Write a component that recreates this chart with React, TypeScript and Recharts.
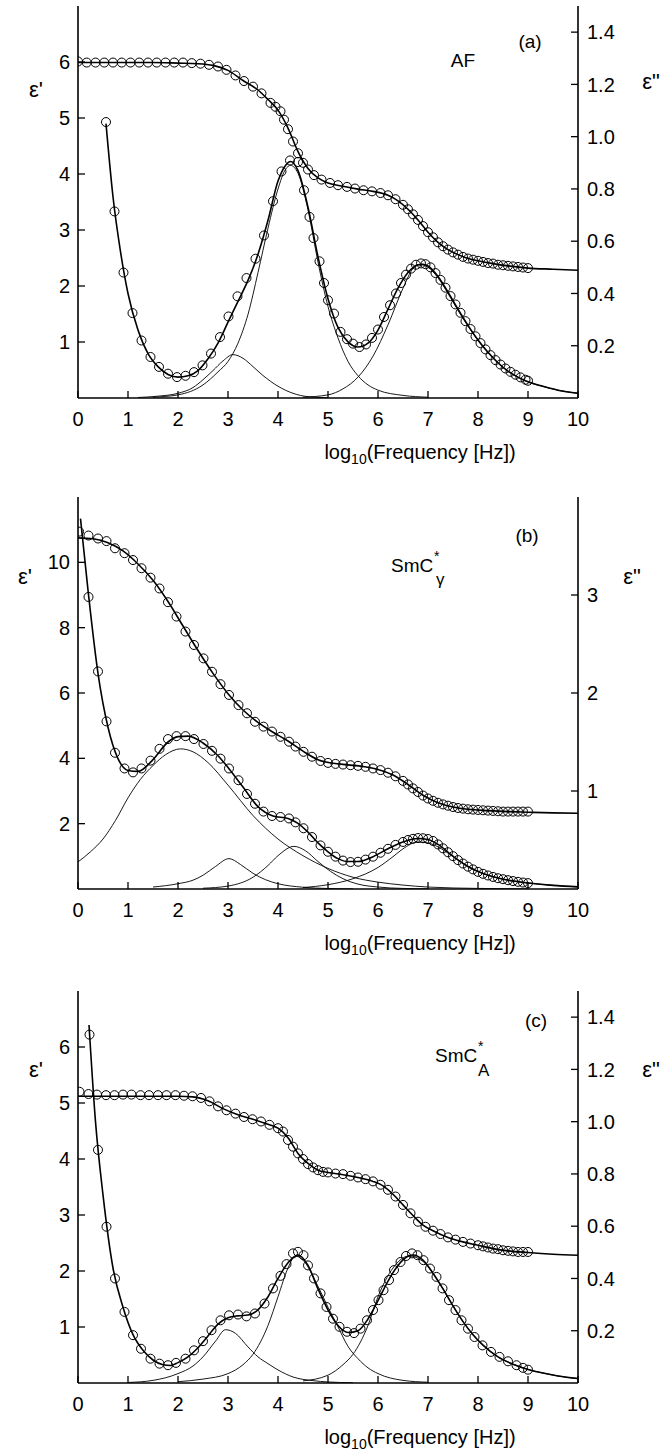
import React from "react";
import { ComposedChart, Line, Scatter, XAxis, YAxis } from "recharts";

type P = [number, number];

// shared axis ticks
const X_TICKS = [0, 1, 2, 3, 4, 5, 6, 7, 8, 9, 10];
const TOP_TICKS = [1, 2, 3, 4, 5, 6, 7, 8, 9];
const A_LEFT_TICKS = [1, 2, 3, 4, 5, 6];
const A_RIGHT_TICKS = [0.2, 0.4, 0.6, 0.8, 1.0, 1.2, 1.4];
const B_LEFT_TICKS = [2, 4, 6, 8, 10];
const B_RIGHT_TICKS = [1, 2, 3];

// ---------- panel (a): AF ----------
const A_E1_PTS: P[] = [
  [0, 6.01], [0.175, 5.99], [0.35, 5.99], [0.525, 5.99], [0.7, 5.99], [0.875, 5.99], [1.05, 5.99],
  [1.225, 5.99], [1.4, 5.99], [1.575, 5.99], [1.75, 5.99], [1.925, 5.99], [2.1, 5.99], [2.275, 5.98],
  [2.45, 5.97], [2.62, 5.95], [2.8, 5.92], [2.97, 5.86], [3.15, 5.76], [3.32, 5.66], [3.5, 5.56],
  [3.67, 5.44], [3.85, 5.27], [3.95, 5.2], [4.05, 5.12], [4.12, 4.97], [4.2, 4.8], [4.3, 4.58],
  [4.4, 4.37], [4.5, 4.2], [4.6, 4.08], [4.72, 3.98], [4.87, 3.9], [5.04, 3.84], [5.2, 3.8],
  [5.38, 3.77], [5.54, 3.74], [5.71, 3.71], [5.88, 3.69], [6.05, 3.66], [6.2, 3.62], [6.35, 3.55],
  [6.5, 3.45], [6.6, 3.37], [6.7, 3.28], [6.8, 3.18], [6.9, 3.07], [7.0, 2.96], [7.1, 2.87],
  [7.2, 2.78], [7.3, 2.71], [7.4, 2.65], [7.5, 2.6], [7.6, 2.56], [7.7, 2.52], [7.8, 2.49],
  [7.9, 2.47], [8.0, 2.45], [8.1, 2.43], [8.2, 2.41], [8.3, 2.4], [8.4, 2.38], [8.5, 2.37],
  [8.6, 2.36], [8.7, 2.35], [8.8, 2.34], [8.9, 2.33], [9.0, 2.32],
];
const A_E1_FIT: P[] = [
  [0, 5.99], [0.5, 5.99], [1, 5.99], [1.5, 5.99], [2, 5.98], [2.4, 5.97], [2.7, 5.94], [3.0, 5.85],
  [3.3, 5.67], [3.6, 5.5], [3.8, 5.33], [4.0, 5.14], [4.2, 4.82], [4.4, 4.4], [4.6, 4.1], [4.8, 3.93],
  [5.0, 3.84], [5.3, 3.78], [5.6, 3.73], [5.9, 3.69], [6.2, 3.62], [6.4, 3.52], [6.6, 3.37],
  [6.8, 3.18], [7.0, 2.96], [7.2, 2.78], [7.4, 2.65], [7.6, 2.56], [7.8, 2.49], [8.0, 2.45],
  [8.3, 2.4], [8.6, 2.36], [9.0, 2.32], [9.5, 2.3], [10, 2.28],
];
const A_E2_PTS: P[] = [
  [0.56, 1.056], [0.73, 0.714], [0.91, 0.48], [1.09, 0.325], [1.27, 0.22], [1.45, 0.157], [1.62, 0.119],
  [1.8, 0.093], [1.98, 0.08], [2.15, 0.085], [2.32, 0.099], [2.49, 0.125], [2.66, 0.17], [2.84, 0.233],
  [3.01, 0.312], [3.19, 0.389], [3.37, 0.459], [3.55, 0.533], [3.72, 0.622], [3.9, 0.753],
  [4.07, 0.867], [4.24, 0.909], [4.4, 0.903], [4.52, 0.795], [4.63, 0.693], [4.71, 0.612],
  [4.83, 0.523], [4.92, 0.44], [5.0, 0.374], [5.12, 0.323], [5.25, 0.253], [5.38, 0.225], [5.5, 0.208],
  [5.63, 0.195], [5.76, 0.205], [5.88, 0.23], [6.0, 0.262], [6.12, 0.31], [6.24, 0.355], [6.36, 0.4],
  [6.46, 0.44], [6.56, 0.472], [6.66, 0.495], [6.76, 0.51], [6.86, 0.515], [6.95, 0.512], [7.05, 0.5],
  [7.15, 0.478], [7.25, 0.452], [7.35, 0.422], [7.45, 0.39], [7.55, 0.358], [7.65, 0.326],
  [7.75, 0.294], [7.85, 0.264], [7.95, 0.236], [8.05, 0.21], [8.15, 0.186], [8.25, 0.164],
  [8.35, 0.145], [8.45, 0.128], [8.55, 0.113], [8.65, 0.1], [8.75, 0.089], [8.85, 0.079],
  [8.95, 0.07], [9.0, 0.066],
];
const A_E2_FIT: P[] = [
  [0.56, 1.05], [0.7, 0.77], [0.85, 0.56], [1.0, 0.4], [1.2, 0.26], [1.4, 0.17], [1.6, 0.12], [1.8, 0.09],
  [2.0, 0.08], [2.2, 0.085], [2.4, 0.105], [2.6, 0.15], [2.8, 0.21], [3.0, 0.29], [3.2, 0.37],
  [3.4, 0.45], [3.6, 0.55], [3.8, 0.68], [4.0, 0.83], [4.15, 0.89], [4.25, 0.905], [4.4, 0.87],
  [4.6, 0.73], [4.8, 0.54], [5.0, 0.38], [5.2, 0.27], [5.4, 0.215], [5.6, 0.195], [5.8, 0.21],
  [6.0, 0.26], [6.2, 0.34], [6.4, 0.42], [6.6, 0.48], [6.8, 0.51], [6.9, 0.512], [7.0, 0.505],
  [7.2, 0.465], [7.4, 0.405], [7.6, 0.34], [7.8, 0.278], [8.0, 0.222], [8.2, 0.175], [8.4, 0.135],
  [8.6, 0.103], [8.8, 0.08], [9.0, 0.062], [9.3, 0.045], [9.6, 0.03], [10, 0.018],
];
const A_C1: P[] = [
  [1.2, 0.002], [1.6, 0.007], [2.0, 0.018], [2.3, 0.04], [2.5, 0.07], [2.7, 0.105], [2.9, 0.142],
  [3.1, 0.166], [3.3, 0.152], [3.5, 0.12], [3.7, 0.086], [4.0, 0.045], [4.3, 0.018], [4.6, 0.005],
  [5.0, 0.001],
];
const A_C2: P[] = [
  [1.5, 0.003], [2.0, 0.012], [2.5, 0.05], [2.8, 0.1], [3.0, 0.14], [3.2, 0.21], [3.4, 0.32],
  [3.6, 0.48], [3.8, 0.65], [4.0, 0.8], [4.15, 0.875], [4.25, 0.89], [4.4, 0.86], [4.6, 0.72],
  [4.8, 0.52], [5.0, 0.35], [5.2, 0.23], [5.4, 0.14], [5.6, 0.085], [5.8, 0.05], [6.0, 0.03],
  [6.5, 0.01], [7.0, 0.003],
];
const A_C3: P[] = [
  [4.5, 0.003], [5.0, 0.012], [5.3, 0.035], [5.6, 0.08], [5.9, 0.16], [6.2, 0.28], [6.5, 0.42],
  [6.7, 0.495], [6.85, 0.51], [7.0, 0.5], [7.2, 0.46], [7.4, 0.4], [7.6, 0.335], [7.8, 0.275],
  [8.0, 0.22], [8.2, 0.173], [8.4, 0.133], [8.6, 0.102], [8.8, 0.079], [9.0, 0.061], [9.3, 0.044],
  [9.6, 0.03], [10, 0.018],
];

// ---------- panel (b): SmC*gamma ----------
const B_E1_PTS: P[] = [
  [0.02, 10.94], [0.21, 10.82], [0.4, 10.73], [0.57, 10.65], [0.74, 10.43], [0.93, 10.28], [1.1, 10.07],
  [1.27, 9.82], [1.45, 9.53], [1.63, 9.2], [1.8, 8.78], [1.97, 8.34], [2.15, 7.88], [2.32, 7.47],
  [2.51, 7.06], [2.68, 6.65], [2.85, 6.27], [3.02, 5.94], [3.21, 5.63], [3.38, 5.38], [3.54, 5.12],
  [3.71, 4.97], [3.88, 4.82], [4.05, 4.66], [4.22, 4.51], [4.35, 4.36], [4.51, 4.2], [4.68, 4.05],
  [4.85, 3.92], [5.0, 3.86], [5.15, 3.83], [5.3, 3.81], [5.45, 3.79], [5.6, 3.77], [5.75, 3.74],
  [5.9, 3.69], [6.05, 3.64], [6.2, 3.56], [6.35, 3.45], [6.5, 3.31], [6.6, 3.2], [6.7, 3.08],
  [6.8, 2.97], [6.9, 2.86], [7.0, 2.77], [7.1, 2.7], [7.2, 2.64], [7.3, 2.59], [7.4, 2.55],
  [7.5, 2.51], [7.6, 2.48], [7.7, 2.46], [7.8, 2.44], [7.9, 2.43], [8.0, 2.42], [8.1, 2.41],
  [8.2, 2.4], [8.3, 2.39], [8.4, 2.38], [8.5, 2.37], [8.6, 2.37], [8.7, 2.37], [8.8, 2.37],
  [8.9, 2.37], [9.0, 2.37],
];
const B_E1_FIT: P[] = [
  [0, 10.75], [0.3, 10.72], [0.6, 10.6], [0.9, 10.35], [1.2, 9.95], [1.5, 9.45], [1.8, 8.8], [2.1, 8.05],
  [2.4, 7.3], [2.7, 6.6], [3.0, 5.98], [3.3, 5.48], [3.6, 5.1], [3.9, 4.8], [4.2, 4.53], [4.5, 4.22],
  [4.8, 3.96], [5.1, 3.85], [5.4, 3.8], [5.7, 3.75], [6.0, 3.66], [6.3, 3.49], [6.6, 3.2], [6.9, 2.87],
  [7.2, 2.64], [7.5, 2.51], [7.8, 2.44], [8.2, 2.4], [8.6, 2.37], [9.0, 2.35], [9.5, 2.33], [10, 2.32],
];
const B_E2_PTS: P[] = [
  [0.21, 2.98], [0.4, 2.22], [0.57, 1.71], [0.74, 1.39], [0.93, 1.23], [1.1, 1.19], [1.27, 1.23],
  [1.45, 1.31], [1.63, 1.43], [1.8, 1.53], [1.97, 1.56], [2.15, 1.56], [2.32, 1.53], [2.51, 1.48],
  [2.68, 1.41], [2.85, 1.33], [3.02, 1.23], [3.21, 1.11], [3.38, 0.97], [3.54, 0.87], [3.71, 0.79],
  [3.88, 0.745], [4.05, 0.735], [4.22, 0.72], [4.35, 0.68], [4.51, 0.62], [4.68, 0.53], [4.85, 0.445],
  [5.0, 0.38], [5.15, 0.33], [5.3, 0.29], [5.45, 0.275], [5.6, 0.278], [5.75, 0.3], [5.9, 0.33],
  [6.05, 0.37], [6.2, 0.41], [6.35, 0.45], [6.5, 0.48], [6.6, 0.5], [6.7, 0.512], [6.8, 0.52],
  [6.9, 0.518], [7.0, 0.51], [7.1, 0.49], [7.2, 0.455], [7.3, 0.415], [7.4, 0.375], [7.5, 0.335],
  [7.6, 0.295], [7.7, 0.26], [7.8, 0.228], [7.9, 0.2], [8.0, 0.175], [8.1, 0.155], [8.2, 0.138],
  [8.3, 0.123], [8.4, 0.11], [8.5, 0.1], [8.6, 0.09], [8.7, 0.081], [8.8, 0.073], [8.9, 0.066],
  [9.0, 0.06],
];
const B_E2_FIT: P[] = [
  [0.05, 3.78], [0.2, 3.05], [0.4, 2.2], [0.6, 1.65], [0.8, 1.33], [1.0, 1.21], [1.2, 1.2], [1.5, 1.32],
  [1.8, 1.5], [2.0, 1.555], [2.2, 1.56], [2.5, 1.49], [2.8, 1.36], [3.0, 1.24], [3.3, 1.04], [3.6, 0.84],
  [3.9, 0.745], [4.2, 0.72], [4.4, 0.67], [4.6, 0.58], [4.8, 0.47], [5.0, 0.38], [5.2, 0.31],
  [5.4, 0.28], [5.6, 0.28], [5.9, 0.33], [6.2, 0.41], [6.5, 0.48], [6.8, 0.515], [7.0, 0.505],
  [7.2, 0.455], [7.5, 0.335], [7.8, 0.23], [8.1, 0.158], [8.4, 0.112], [8.7, 0.082], [9.0, 0.062],
  [9.5, 0.037], [10, 0.022],
];
const B_C1: P[] = [
  [0, 0.276], [0.25, 0.38], [0.5, 0.51], [0.75, 0.7], [1.0, 0.93], [1.25, 1.12], [1.5, 1.26],
  [1.75, 1.37], [2.05, 1.43], [2.3, 1.4], [2.6, 1.29], [3.0, 1.06], [3.5, 0.75], [4.0, 0.51],
  [4.5, 0.34], [5.0, 0.21], [5.5, 0.12], [6.0, 0.07], [6.5, 0.04], [7.0, 0.02], [8.0, 0.006], [9, 0.002],
];
const B_C2: P[] = [
  [1.5, 0.02], [2.0, 0.054], [2.3, 0.09], [2.5, 0.14], [2.75, 0.23], [3.02, 0.31], [3.25, 0.25],
  [3.5, 0.16], [3.75, 0.095], [4.0, 0.054], [4.5, 0.018], [5.0, 0.005], [5.5, 0.001],
];
const B_C3: P[] = [
  [2.5, 0.008], [3.0, 0.03], [3.5, 0.12], [3.8, 0.24], [4.0, 0.34], [4.32, 0.435], [4.55, 0.39],
  [4.8, 0.28], [5.05, 0.18], [5.3, 0.105], [5.6, 0.05], [6.0, 0.02], [6.5, 0.006], [7, 0.002],
];
const B_C4: P[] = [
  [4.5, 0.015], [5.0, 0.044], [5.5, 0.105], [6.0, 0.22], [6.3, 0.33], [6.5, 0.41], [6.8, 0.48],
  [7.0, 0.47], [7.2, 0.43], [7.5, 0.33], [7.8, 0.23], [8.1, 0.158], [8.4, 0.112], [8.7, 0.082],
  [9.0, 0.062], [9.5, 0.037], [10, 0.022],
];

// ---------- panel (c): SmC*A ----------
const C_E1_PTS: P[] = [
  [0.03, 5.2], [0.21, 5.16], [0.38, 5.15], [0.56, 5.14], [0.73, 5.14], [0.9, 5.15], [1.07, 5.15],
  [1.25, 5.14], [1.42, 5.14], [1.6, 5.14], [1.77, 5.14], [1.95, 5.14], [2.12, 5.13], [2.29, 5.12],
  [2.46, 5.09], [2.63, 5.03], [2.8, 4.94], [2.97, 4.87], [3.15, 4.81], [3.32, 4.75], [3.49, 4.71],
  [3.66, 4.67], [3.83, 4.61], [4.0, 4.55], [4.1, 4.49], [4.2, 4.34], [4.3, 4.22], [4.4, 4.1],
  [4.5, 4.0], [4.6, 3.91], [4.7, 3.85], [4.8, 3.8], [4.9, 3.77], [5.0, 3.76], [5.15, 3.74],
  [5.3, 3.73], [5.45, 3.7], [5.6, 3.67], [5.75, 3.64], [5.9, 3.6], [6.05, 3.54], [6.2, 3.45],
  [6.35, 3.33], [6.5, 3.18], [6.65, 3.03], [6.8, 2.88], [6.95, 2.79], [7.1, 2.72], [7.25, 2.66],
  [7.4, 2.6], [7.55, 2.56], [7.7, 2.52], [7.85, 2.49], [8.0, 2.46], [8.1, 2.44], [8.2, 2.42],
  [8.3, 2.4], [8.4, 2.39], [8.5, 2.37], [8.6, 2.36], [8.7, 2.35], [8.8, 2.34], [8.9, 2.34], [9.0, 2.34],
];
const C_E1_FIT: P[] = [
  [0, 5.12], [0.5, 5.12], [1, 5.12], [1.5, 5.12], [2, 5.12], [2.3, 5.11], [2.6, 5.04], [2.9, 4.9],
  [3.2, 4.79], [3.5, 4.71], [3.8, 4.62], [4.0, 4.55], [4.2, 4.38], [4.4, 4.1], [4.6, 3.92], [4.8, 3.8],
  [5.0, 3.76], [5.3, 3.72], [5.6, 3.67], [5.9, 3.6], [6.1, 3.52], [6.3, 3.37], [6.5, 3.18], [6.7, 2.99],
  [6.9, 2.82], [7.1, 2.72], [7.4, 2.6], [7.7, 2.52], [8.0, 2.46], [8.3, 2.4], [8.6, 2.36], [9.0, 2.33],
  [9.5, 2.3], [10, 2.28],
];
const C_E2_PTS: P[] = [
  [0.23, 1.333], [0.4, 0.892], [0.57, 0.598], [0.74, 0.4], [0.93, 0.272], [1.1, 0.183], [1.26, 0.131],
  [1.45, 0.093], [1.63, 0.074], [1.8, 0.068], [1.96, 0.077], [2.15, 0.093], [2.32, 0.125], [2.5, 0.16],
  [2.67, 0.202], [2.85, 0.24], [3.02, 0.259], [3.2, 0.262], [3.37, 0.255], [3.54, 0.266], [3.73, 0.304],
  [3.9, 0.362], [4.05, 0.41], [4.17, 0.455], [4.3, 0.496], [4.4, 0.502], [4.51, 0.489], [4.6, 0.45],
  [4.72, 0.4], [4.85, 0.343], [4.97, 0.291], [5.1, 0.246], [5.23, 0.215], [5.38, 0.196], [5.52, 0.191],
  [5.65, 0.208], [5.78, 0.24], [5.9, 0.279], [6.01, 0.317], [6.11, 0.355], [6.22, 0.394], [6.32, 0.432],
  [6.45, 0.463], [6.56, 0.486], [6.68, 0.496], [6.79, 0.489], [6.91, 0.47], [7.04, 0.438],
  [7.17, 0.406], [7.29, 0.362], [7.42, 0.317], [7.55, 0.279], [7.67, 0.24], [7.8, 0.208], [7.93, 0.176],
  [8.09, 0.144], [8.26, 0.119], [8.43, 0.1], [8.6, 0.083], [8.77, 0.068], [8.9, 0.058], [9.0, 0.051],
];
const C_E2_FIT: P[] = [
  [0.22, 1.37], [0.35, 1.0], [0.5, 0.72], [0.7, 0.44], [0.9, 0.29], [1.1, 0.185], [1.3, 0.125],
  [1.5, 0.088], [1.7, 0.07], [1.85, 0.067], [2.0, 0.078], [2.2, 0.1], [2.4, 0.135], [2.6, 0.18],
  [2.8, 0.225], [3.0, 0.25], [3.2, 0.257], [3.4, 0.26], [3.6, 0.28], [3.8, 0.33], [4.0, 0.4],
  [4.2, 0.46], [4.4, 0.49], [4.6, 0.45], [4.8, 0.36], [5.0, 0.28], [5.2, 0.22], [5.4, 0.193],
  [5.6, 0.2], [5.8, 0.245], [6.0, 0.315], [6.2, 0.39], [6.4, 0.45], [6.6, 0.485], [6.7, 0.49],
  [6.9, 0.47], [7.1, 0.42], [7.3, 0.36], [7.5, 0.295], [7.7, 0.235], [7.9, 0.185], [8.1, 0.145],
  [8.4, 0.1], [8.7, 0.072], [9.0, 0.052], [9.3, 0.038], [9.6, 0.027], [10, 0.017],
];
const C_C1: P[] = [
  [1.0, 0.002], [1.5, 0.01], [2.0, 0.036], [2.3, 0.065], [2.5, 0.1], [2.75, 0.16], [2.95, 0.204],
  [3.15, 0.19], [3.4, 0.138], [3.6, 0.1], [3.8, 0.074], [4.0, 0.05], [4.3, 0.023], [4.7, 0.009],
  [5.0, 0.004], [5.5, 0.001],
];
const C_C2: P[] = [
  [2.0, 0.005], [2.5, 0.015], [3.0, 0.036], [3.3, 0.07], [3.5, 0.11], [3.8, 0.22], [4.0, 0.33],
  [4.2, 0.44], [4.35, 0.486], [4.5, 0.47], [4.8, 0.37], [5.0, 0.29], [5.2, 0.215], [5.4, 0.14],
  [5.6, 0.093], [5.8, 0.058], [6.0, 0.036], [6.5, 0.01], [7.0, 0.003],
];
const C_C3: P[] = [
  [4.5, 0.008], [5.0, 0.03], [5.3, 0.07], [5.5, 0.11], [5.8, 0.22], [6.0, 0.33], [6.3, 0.44],
  [6.62, 0.486], [6.9, 0.465], [7.1, 0.42], [7.3, 0.36], [7.5, 0.295], [7.7, 0.235], [7.9, 0.185],
  [8.1, 0.145], [8.4, 0.1], [8.7, 0.072], [9.0, 0.052], [9.3, 0.038], [9.6, 0.027], [10, 0.017],
];

const FONT = "'Liberation Sans', Arial, Helvetica, sans-serif";
const pts = (a: P[]) => a.map(([x, y]) => ({ x, y }));

function Ring(props: any) {
  const { cx, cy } = props;
  if (cx == null || cy == null) return null;
  return <circle cx={cx} cy={cy} r={4.5} fill="none" stroke="#000" strokeWidth={1} />;
}

const axisLine = { stroke: "#000", strokeWidth: 1.6 };
const tickLine = { stroke: "#000", strokeWidth: 1.3 };
const tickText = { fill: "#000", fontSize: 20, fontFamily: FONT };

type PanelProps = {
  top: number;
  leftMax: number;
  rightMax: number;
  leftTicks: number[];
  rightTicks: number[];
  rightFmt: (v: number) => string;
  e1Pts: P[];
  e1Fit: P[];
  e2Pts: P[];
  e2Fit: P[];
  comps: P[][];
  children?: React.ReactNode;
};

function Panel(p: PanelProps) {
  return (
    <div style={{ position: "absolute", left: 0, top: p.top, width: 663, height: 468 }}>
      <ComposedChart width={663} height={458} margin={{ top: 6, right: 0, bottom: 0, left: 0 }}>
        <XAxis
          xAxisId="b"
          dataKey="x"
          type="number"
          domain={[0, 10]}
          ticks={X_TICKS}
          interval={0}
          allowDataOverflow
          height={60}
          tickSize={-7}
          tickMargin={21}
          axisLine={axisLine}
          tickLine={tickLine}
          tick={tickText}
        />
        <XAxis
          xAxisId="t"
          dataKey="x"
          orientation="top"
          type="number"
          domain={[0, 10]}
          ticks={TOP_TICKS}
          interval={0}
          allowDataOverflow
          height={0}
          tickSize={-7}
          axisLine={axisLine}
          tickLine={tickLine}
          tick={false}
        />
        <YAxis
          yAxisId="l"
          dataKey="y"
          type="number"
          domain={[0, p.leftMax]}
          ticks={p.leftTicks}
          interval={0}
          allowDataOverflow
          width={78}
          tickSize={-7}
          tickMargin={15}
          axisLine={axisLine}
          tickLine={tickLine}
          tick={tickText}
        />
        <YAxis
          yAxisId="r"
          dataKey="y"
          orientation="right"
          type="number"
          domain={[0, p.rightMax]}
          ticks={p.rightTicks}
          interval={0}
          allowDataOverflow
          width={85}
          tickSize={-7}
          tickMargin={16}
          tickFormatter={p.rightFmt}
          axisLine={axisLine}
          tickLine={tickLine}
          tick={tickText}
        />
        {p.comps.map((c, i) => (
          <Line
            key={"c" + i}
            xAxisId="b"
            yAxisId="r"
            data={pts(c)}
            dataKey="y"
            type="monotone"
            stroke="#000"
            strokeWidth={0.9}
            dot={false}
            isAnimationActive={false}
          />
        ))}
        <Line xAxisId="b" yAxisId="l" data={pts(p.e1Fit)} dataKey="y" type="monotone" stroke="#000"
          strokeWidth={1.6} dot={false} isAnimationActive={false} />
        <Line xAxisId="b" yAxisId="r" data={pts(p.e2Fit)} dataKey="y" type="monotone" stroke="#000"
          strokeWidth={1.6} dot={false} isAnimationActive={false} />
        <Scatter xAxisId="b" yAxisId="l" data={pts(p.e1Pts)} dataKey="y" shape={Ring} isAnimationActive={false} />
        <Scatter xAxisId="b" yAxisId="r" data={pts(p.e2Pts)} dataKey="y" shape={Ring} isAnimationActive={false} />
      </ComposedChart>
      <svg
        width={663}
        height={468}
        style={{ position: "absolute", left: 0, top: 0, pointerEvents: "none" }}
        fontFamily={FONT}
      >
        <text x={420} y={459} textAnchor="middle" fontSize={20} fill="#000">
          log<tspan fontSize={14} dy={5}>10</tspan>
          <tspan dy={-5}>(Frequency [Hz])</tspan>
        </text>
        {p.children}
      </svg>
    </div>
  );
}

const fmt1 = (v: number) => v.toFixed(1);
const fmt0 = (v: number) => String(v);

export default function App() {
  return (
    <div style={{ position: "absolute", left: 0, top: 0, width: 663, height: 1453, background: "#fff", overflow: "hidden" }}>
      <Panel top={0} leftMax={7} rightMax={1.5} leftTicks={A_LEFT_TICKS} rightTicks={A_RIGHT_TICKS}
        rightFmt={fmt1} e1Pts={A_E1_PTS} e1Fit={A_E1_FIT} e2Pts={A_E2_PTS} e2Fit={A_E2_FIT}
        comps={[A_C1, A_C2, A_C3]}>
        <text x={36} y={97} textAnchor="middle" fontSize={22}>ε'</text>
        <text x={651} y={89} textAnchor="middle" fontSize={22}>ε"</text>
        <text x={530} y={48} textAnchor="middle" fontSize={19}>(a)</text>
        <text x={463} y={67} textAnchor="middle" fontSize={19}>AF</text>
      </Panel>
      <Panel top={491} leftMax={12} rightMax={4} leftTicks={B_LEFT_TICKS} rightTicks={B_RIGHT_TICKS}
        rightFmt={fmt0} e1Pts={B_E1_PTS} e1Fit={B_E1_FIT} e2Pts={B_E2_PTS} e2Fit={B_E2_FIT}
        comps={[B_C1, B_C2, B_C3, B_C4]}>
        <text x={25} y={93} textAnchor="middle" fontSize={22}>ε'</text>
        <text x={632} y={93} textAnchor="middle" fontSize={22}>ε"</text>
        <text x={527} y={51} textAnchor="middle" fontSize={19}>(b)</text>
        <text x={391} y={81} fontSize={19}>SmC</text>
        <text x={434} y={70} fontSize={14}>*</text>
        <text x={436} y={94} fontSize={17}>γ</text>
      </Panel>
      <Panel top={985} leftMax={7} rightMax={1.5} leftTicks={A_LEFT_TICKS} rightTicks={A_RIGHT_TICKS}
        rightFmt={fmt1} e1Pts={C_E1_PTS} e1Fit={C_E1_FIT} e2Pts={C_E2_PTS} e2Fit={C_E2_FIT}
        comps={[C_C1, C_C2, C_C3]}>
        <text x={36} y={92} textAnchor="middle" fontSize={22}>ε'</text>
        <text x={651} y={92} textAnchor="middle" fontSize={22}>ε"</text>
        <text x={536} y={42} textAnchor="middle" fontSize={19}>(c)</text>
        <text x={435} y={77} fontSize={19}>SmC</text>
        <text x={478} y={66} fontSize={14}>*</text>
        <text x={478} y={91} fontSize={17}>A</text>
      </Panel>
    </div>
  );
}
